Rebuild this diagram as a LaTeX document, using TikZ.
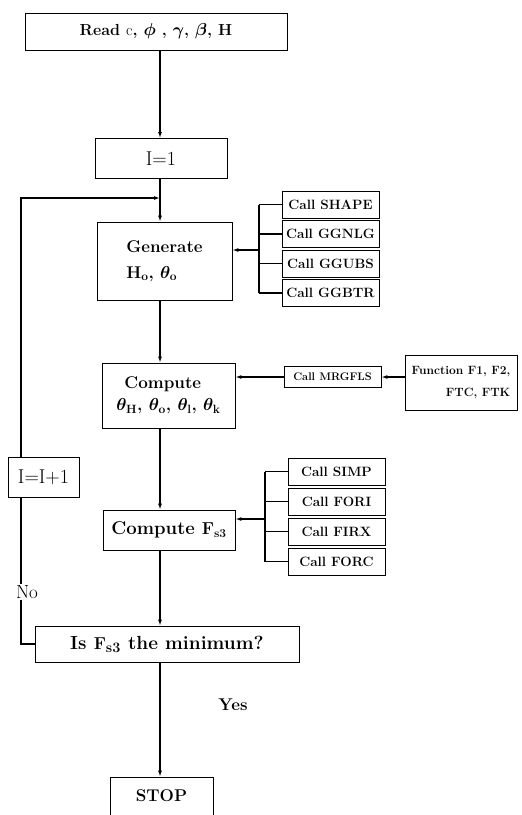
\documentclass[tikz,border=0pt]{standalone}
\usepackage{amsmath,amssymb}
\usepackage{tikz}
\usetikzlibrary{arrows.meta,positioning,calc}
\newcommand{\Fsthree}{\mathbf{F}_{\mathbf{s}\mathbf{3}}}
\newcommand{\bigfont}{\fontsize{17}{20}\selectfont}

\begin{document}
\begin{tikzpicture}[x=1pt, y=-1pt,
  box/.style={draw, line width=0.8pt, inner sep=2pt, font=\bigfont\bfseries\boldmath},
  plainbox/.style={draw, line width=0.8pt, inner sep=2pt, font=\fontsize{20}{22}\selectfont},
  callbox/.style={draw, line width=0.8pt, minimum width=97pt, minimum height=27pt,
                  inner sep=1pt, font=\fontsize{13.5}{15}\selectfont\bfseries},
  flow/.style={line width=1.6pt, -{Latex[length=6pt,width=4pt]}},
  bus/.style={line width=1.4pt}]
  \useasboundingbox (0,0) rectangle (522,815);

  % main column
  \node[box, minimum width=262pt, minimum height=37pt, font=\fontsize{16}{19}\selectfont\bfseries\boldmath]
       (read) at (156,31.5) {Read {\mdseries c}, $\phi$ , $\gamma$, $\beta$, H};
  \node[plainbox, minimum width=132pt, minimum height=40pt] (init) at (161,158.5) {I=1};
  \node[box, minimum width=135pt, minimum height=78pt, align=left] (gen) at (164.5,261)
       {Generate\\[6pt] H$_{\mathbf{o}}$, $\theta_{\mathbf{o}}$};
  \node[box, minimum width=133pt, minimum height=65pt, align=left] (comp) at (168.5,395.5)
       {\hspace{8pt}Compute\\[2pt] $\theta_{\mathbf{H}}$, $\theta_{\mathbf{o}}$, $\theta_{\mathbf{l}}$, $\theta_{\mathbf{k}}$};
  \node[box, minimum width=132pt, minimum height=40pt, font=\fontsize{18.5}{21}\selectfont\bfseries\boldmath]
       (compf) at (169,530) {Compute $\Fsthree$};
  \node[box, minimum width=264pt, minimum height=36pt, font=\fontsize{19}{22}\selectfont\bfseries\boldmath]
       (ismin) at (167,644) {Is $\Fsthree$ the minimum?};
  \node[box, minimum width=103pt, minimum height=38pt] (stop) at (161.5,796) {STOP};
  \node[plainbox, minimum width=71pt, minimum height=40pt] (incr) at (43.5,477) {I=I+1};

  % subroutines
  \foreach \name [count=\i] in {SHAPE,GGNLG,GGUBS,GGBTR}
    \node[callbox] (g\i) at (330.5,175+29.5*\i) {Call \name};
  \foreach \name [count=\i] in {SIMP,FORI,FIRX,FORC}
    \node[callbox] (f\i) at (336.5,441.5+30*\i) {Call \name};
  \node[callbox, minimum height=21pt, font=\fontsize{11}{13}\selectfont\bfseries] (mrg)
       at (332.5,377) {Call MRGFLS};
  \node[draw, line width=0.8pt, minimum width=112pt, minimum height=55pt, align=right,
        font=\fontsize{12}{14}\selectfont\bfseries] (func) at (461,382.5)
       {Function F1, F2,\\[8pt] FTC, FTK};

  % flow lines
  \coordinate (axis) at (160,0);
  \coordinate (loopin) at (160,198);
  \coordinate (loopx) at (21,0);
  \draw[flow] (read.south -| axis) -- (init.north -| axis);
  \draw[flow] (init.south -| axis) -- (gen.north -| axis);
  \draw[flow] (gen.south -| axis) -- (comp.north -| axis);
  \draw[flow] (comp.south -| axis) -- (compf.north -| axis);
  \draw[flow] (compf.south -| axis) -- (ismin.north -| axis);
  \draw[flow] (ismin.south -| axis) -- (stop.north -| axis);

  % loop back
  \draw[line width=1.6pt] (ismin.west) -| (incr.south -| loopx);
  \draw[flow] (incr.north -| loopx) |- (loopin);
  \node[fill=white, inner sep=1pt, font=\fontsize{19}{22}\selectfont] (no) at (27,592) {No};
  \node[font=\bigfont\bfseries] (yes) at (233,705) {Yes};

  % branches to the calls
  \coordinate (gj) at (259,250);
  \draw[bus] (g1.west -| gj) -- (g4.west -| gj);
  \foreach \i in {1,...,4} \draw[bus] (g\i.west -| gj) -- (g\i.west);
  \draw[flow] (gj) -- (gj -| gen.east);
  \coordinate (fj) at (265,519);
  \draw[bus] (f1.west -| fj) -- (f4.west -| fj);
  \foreach \i in {1,...,4} \draw[bus] (f\i.west -| fj) -- (f\i.west);
  \draw[flow] (fj) -- (fj -| compf.east);
  \draw[flow] (mrg.west) -- (mrg.west -| comp.east);
  \draw[flow] (func.west |- mrg) -- (mrg.east);
\end{tikzpicture}
\end{document}
